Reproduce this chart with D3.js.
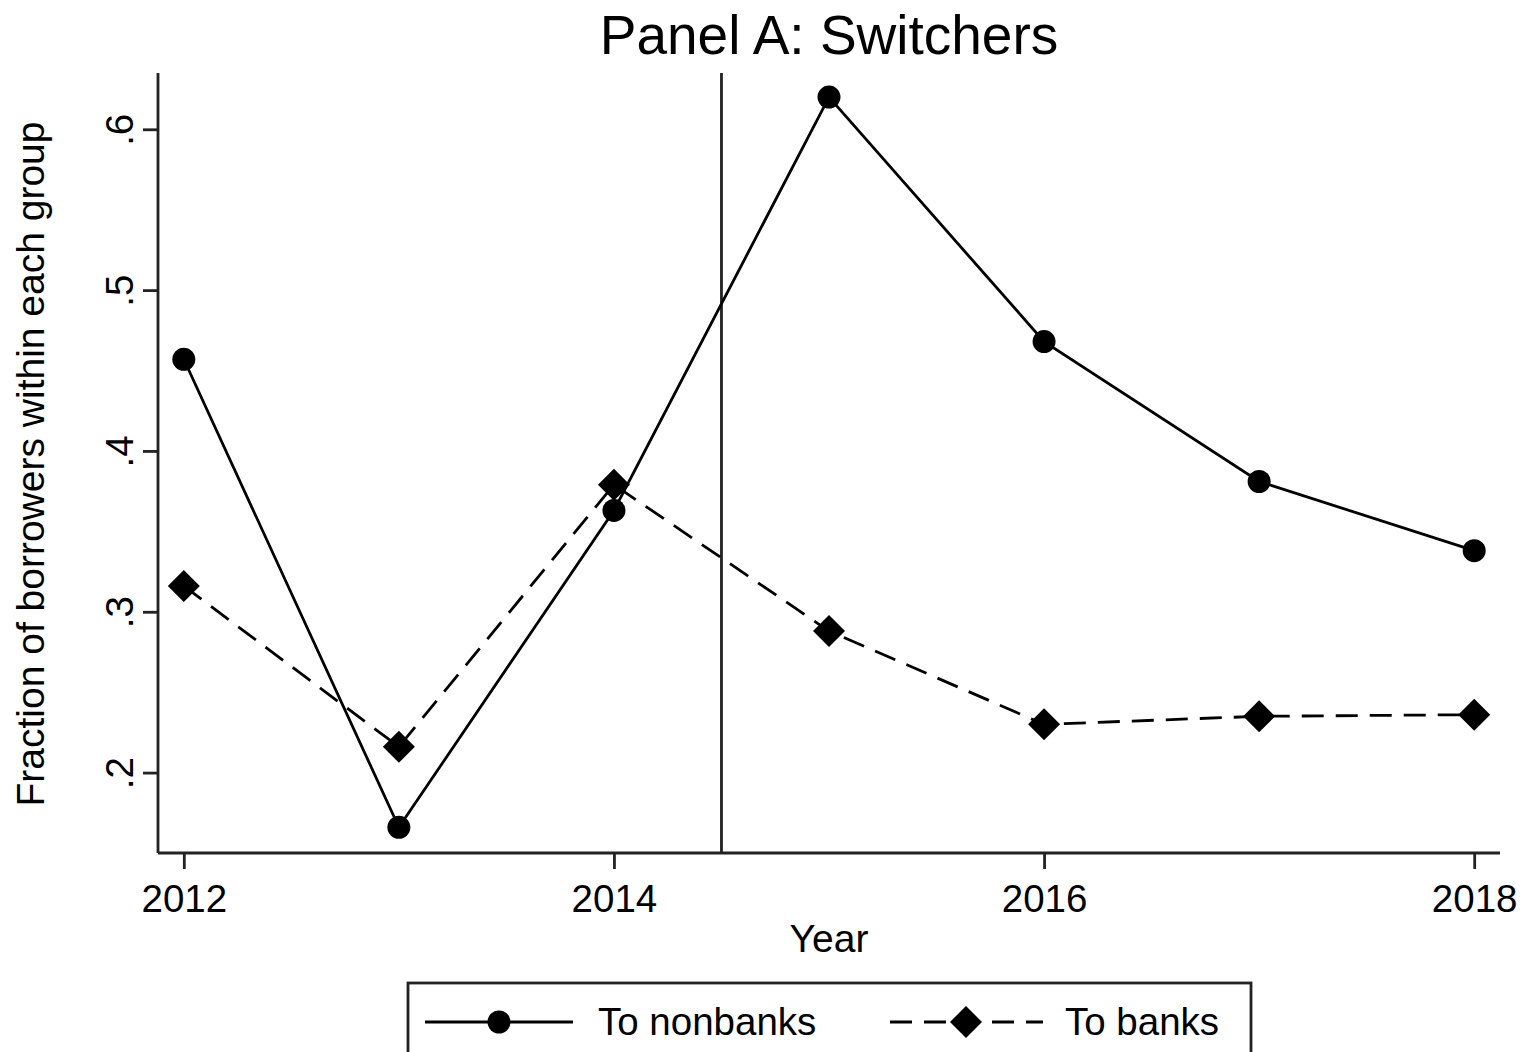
<!DOCTYPE html>
<html><head><meta charset="utf-8">
<script src="https://cdn.jsdelivr.net/npm/d3@7"></script>
<style>body{margin:0;background:#fff}svg{display:block}text{font-family:"Liberation Sans",Arial,sans-serif;fill:#000}</style>
</head><body>
<script>
const years = [2012, 2013, 2014, 2015, 2016, 2017, 2018];
const toNonbanks = [0.457, 0.166, 0.363, 0.620, 0.468, 0.381, 0.338];
const toBanks = [0.316, 0.216, 0.379, 0.288, 0.230, 0.235, 0.236];
const xTicks = [2012, 2014, 2016, 2018];
const yTicks = [0.2, 0.3, 0.4, 0.5, 0.6];
const yTickLabels = [".2", ".3", ".4", ".5", ".6"];
const eventYear = 2014.5;
const seriesNames = ["To nonbanks", "To banks"];

const W = 1522, H = 1052;
const svg = d3.select("body").append("svg").attr("width", W).attr("height", H);
const L = 158, R = 1500, T = 73, B = 853;
const x = d3.scaleLinear().domain([2011.88, 2018.12]).range([L, R]);
const y = d3.scaleLinear().domain([0.150, 0.635]).range([B, T]);
const SW = 2.8;

// title
svg.append("text").attr("x", 829).attr("y", 54).attr("text-anchor", "middle")
  .style("font-size", "55px").text("Panel A: Switchers");

// axes
const xAxis = svg.append("g").attr("transform", `translate(0,${B})`)
  .call(d3.axisBottom(x).tickValues(xTicks).tickFormat(d3.format("d")).tickSize(16).tickPadding(8));
const yAxis = svg.append("g").attr("transform", `translate(${L},0)`)
  .call(d3.axisLeft(y).tickValues(yTicks).tickFormat((d,i)=>yTickLabels[i]).tickSize(15).tickPadding(8));
[xAxis, yAxis].forEach(g => {
  g.select(".domain").attr("stroke", "#222").attr("stroke-width", SW);
  g.selectAll(".tick line").attr("stroke", "#222").attr("stroke-width", SW);
  g.selectAll(".tick text").style("font-size", "38.5px").attr("fill", "#000");
});
xAxis.select(".domain").attr("d", `M${L},0H${R}`);
yAxis.select(".domain").attr("d", `M0,${B}V${T}`);
xAxis.selectAll(".tick text").attr("dy", "0.9em");
yAxis.selectAll(".tick text")
  .attr("text-anchor", "middle")
  .attr("transform", `translate(-38,0) rotate(-90)`)
  .attr("x", 0).attr("dy", "0.35em");

// axis titles
svg.append("text").attr("x", 829).attr("y", 952).attr("text-anchor", "middle")
  .style("font-size", "39px").text("Year");
svg.append("text").attr("transform", `translate(44,${(T+B)/2 + 1}) rotate(-90)`)
  .attr("text-anchor", "middle").style("font-size", "39px")
  .text("Fraction of borrowers within each group");

// vertical line
svg.append("line").attr("x1", x(eventYear)).attr("x2", x(eventYear))
  .attr("y1", y(0.635)).attr("y2", B).attr("stroke", "#222").attr("stroke-width", SW);

const line = d3.line().x((d,i)=>x(years[i])).y(d=>y(d));
const diamond = (cx, cy, s) => `M${cx},${cy-s}L${cx+s},${cy}L${cx},${cy+s}L${cx-s},${cy}Z`;

// banks (dashed)
svg.append("path").datum(toBanks).attr("d", line).attr("fill", "none")
  .attr("stroke", "#000").attr("stroke-width", SW).attr("stroke-dasharray", "22,12");
svg.selectAll(".dia").data(toBanks).enter().append("path")
  .attr("d", (d,i)=>diamond(x(years[i]), y(d), 16)).attr("fill", "#000");

// nonbanks (solid)
svg.append("path").datum(toNonbanks).attr("d", line).attr("fill", "none")
  .attr("stroke", "#000").attr("stroke-width", SW);
svg.selectAll(".dot").data(toNonbanks).enter().append("circle")
  .attr("cx", (d,i)=>x(years[i])).attr("cy", d=>y(d)).attr("r", 11.5).attr("fill", "#000");

// legend
const lg = svg.append("g");
lg.append("rect").attr("x", 408).attr("y", 983).attr("width", 843).attr("height", 100)
  .attr("fill", "#fff").attr("stroke", "#222").attr("stroke-width", SW);
const ly = 1022;
lg.append("line").attr("x1", 425).attr("x2", 573).attr("y1", ly).attr("y2", ly)
  .attr("stroke", "#000").attr("stroke-width", SW);
lg.append("circle").attr("cx", 499).attr("cy", ly).attr("r", 11.5).attr("fill", "#000");
lg.append("text").attr("x", 598).attr("y", ly).attr("dy", "0.35em").style("font-size", "38.5px").text(seriesNames[0]);
lg.append("line").attr("x1", 890).attr("x2", 1043).attr("y1", ly).attr("y2", ly)
  .attr("stroke", "#000").attr("stroke-width", SW).attr("stroke-dasharray", "22,12");
lg.append("path").attr("d", diamond(966, ly, 16)).attr("fill", "#000");
lg.append("text").attr("x", 1065).attr("y", ly).attr("dy", "0.35em").style("font-size", "38.5px").text(seriesNames[1]);
</script>
</body></html>
